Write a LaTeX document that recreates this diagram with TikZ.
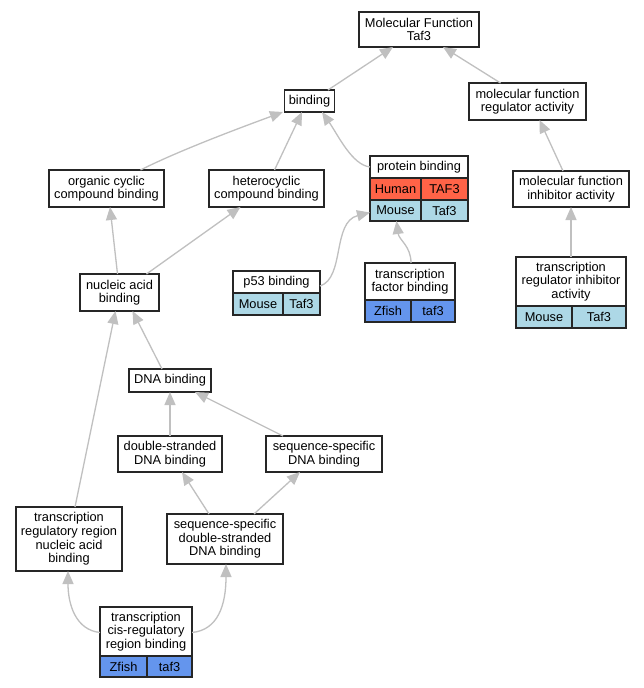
\documentclass[tikz,border=0pt]{standalone}
\usepackage{fontspec}
\setmainfont{Liberation Sans}
\usetikzlibrary{arrows.meta}
\definecolor{edgec}{HTML}{C0C0C0}
\definecolor{tomatoc}{HTML}{FF6347}
\definecolor{lbluec}{HTML}{ADD8E6}
\definecolor{cfbluec}{HTML}{6495ED}
\begin{document}
\begin{tikzpicture}[x=1pt,y=-1pt,
 box/.style={draw=black!85, line width=1.3pt, fill=white, inner sep=0pt, outer sep=0pt, align=center, font=\fontsize{12.8}{13.6}\selectfont},
 hum/.style={box, fill=tomatoc},
 mou/.style={box, fill=lbluec},
 zf/.style={box, fill=cfbluec},
 edge/.style={draw=edgec, line width=1.3pt, -{Triangle[length=13pt,width=11pt]}}
]
\useasboundingbox (0,0) rectangle (644,688);
\fill[white] (0,0) rectangle (644,688);

% nodes
\node[box, minimum width=120, minimum height=35] (mf) at (419,29.5) {Molecular Function\\Taf3};
\node[box, minimum width=50, minimum height=22] (bind) at (309.5,101) {binding};
\node[box, minimum width=117, minimum height=37] (mfra) at (527.5,101.5) {molecular function\\regulator activity};
\node[box, minimum width=115, minimum height=37] (org) at (106.5,188.5) {organic cyclic\\compound binding};
\node[box, minimum width=115, minimum height=37] (het) at (266.5,188.5) {heterocyclic\\compound binding};
\node[box, minimum width=79, minimum height=37] (nuc) at (119.5,292.5) {nucleic acid\\binding};
% p53
\node[box, minimum width=87, minimum height=22] (p53h) at (276.5,282) {p53 binding};
\node[mou, minimum width=50, minimum height=22] (p53a) at (258,304) {Mouse};
\node[mou, minimum width=37, minimum height=22] (p53b) at (301.5,304) {Taf3};
% protein binding
\node[box, minimum width=98, minimum height=22] (ph) at (419,167) {protein binding};
\node[hum, minimum width=51, minimum height=22] (pha) at (395.5,189) {Human};
\node[hum, minimum width=47, minimum height=22] (phb) at (444.5,189) {TAF3};
\node[mou, minimum width=51, minimum height=21] (pma) at (395.5,210.5) {Mouse};
\node[mou, minimum width=47, minimum height=21] (pmb) at (444.5,210.5) {Taf3};
% mfia
\node[box, minimum width=116, minimum height=36] (mfia) at (571,189) {molecular function\\inhibitor activity};
% tfb
\node[box, minimum width=90, minimum height=37] (tfbh) at (410,281.5) {transcription\\factor binding};
\node[zf, minimum width=46, minimum height=22] (tfba) at (388,311) {Zfish};
\node[zf, minimum width=44, minimum height=22] (tfbb) at (433,311) {taf3};
% trib
\node[box, minimum width=110, minimum height=49] (tribh) at (571,281.5) {transcription\\regulator inhibitor\\activity};
\node[mou, minimum width=56, minimum height=22] (triba) at (544,317) {Mouse};
\node[mou, minimum width=54, minimum height=22] (tribb) at (599,317) {Taf3};
% DNA
\node[box, minimum width=82, minimum height=23] (dna) at (170,380.5) {DNA binding};
\node[box, minimum width=104, minimum height=36] (ds) at (170,454) {double-stranded\\DNA binding};
\node[box, minimum width=116, minimum height=36] (ss) at (324,454) {sequence-specific\\DNA binding};
\node[box, minimum width=106, minimum height=64] (trr) at (69,539) {transcription\\regulatory region\\nucleic acid\\binding};
\node[box, minimum width=116, minimum height=50] (ssds) at (225,539) {sequence-specific\\double-stranded\\DNA binding};
% tcrb
\node[box, minimum width=92, minimum height=49] (tch) at (146,631.5) {transcription\\cis-regulatory\\region binding};
\node[zf, minimum width=47, minimum height=21] (tca) at (123.5,666.5) {Zfish};
\node[zf, minimum width=45, minimum height=21] (tcb) at (169.5,666.5) {taf3};

% edges
\draw[edge] ([xshift=18.5]bind.north) -- ([xshift=-26]mf.south);
\draw[edge] ([xshift=-27]mfra.north) -- ([xshift=24]mf.south);
\draw[edge] ([xshift=34]org.north) .. controls (180,150) and (245,126) .. ([xshift=-26.5]bind.south);
\draw[edge] ([xshift=8]het.north) -- ([xshift=-7.5]bind.south);
\draw[edge] (ph.west) .. controls (352,165) and (338,135) .. ([xshift=12.5]bind.south);
\draw[edge] ([xshift=-8]mfia.north) -- ([xshift=12]mfra.south);
\draw[edge] (tribh.north) -- (mfia.south);
\draw[edge] ([xshift=-2]nuc.north) -- ([xshift=3.5]org.south);
\draw[edge] ([xshift=27]nuc.north) -- ([xshift=-26]het.south);
\draw[edge] ([yshift=-4]p53h.east) .. controls (345,278) and (332,222) .. ([yshift=-2]pma.west);
\draw[edge] ([xshift=1]tfbh.north) .. controls (411,246) and (399,240) .. ([xshift=1]pma.south);
\draw[edge] ([xshift=-8]dna.north) -- ([xshift=13]nuc.south);
\draw[edge] ([xshift=6]trr.north) -- ([xshift=-4]nuc.south);
\draw[edge] (ds.north) -- (dna.south);
\draw[edge] ([xshift=-41]ss.north) -- ([xshift=25]dna.south);
\draw[edge] ([xshift=-16]ssds.north) -- ([xshift=12]ds.south);
\draw[edge] ([xshift=29]ssds.north) -- ([xshift=-24]ss.south);
\draw[edge] ([yshift=-1]tch.west) .. controls (76,630) and (68,605) .. ([xshift=-1]trr.south);
\draw[edge] ([yshift=-1]tch.east) .. controls (218,630) and (226,605) .. ([xshift=1]ssds.south);
\end{tikzpicture}
\end{document}
